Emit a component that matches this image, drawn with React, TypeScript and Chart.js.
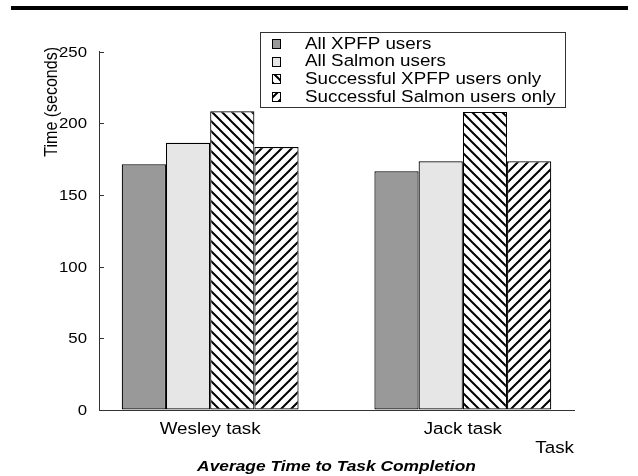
import React, { useEffect, useRef } from 'react';
import { Chart, registerables } from 'chart.js';

Chart.register(...registerables);

const categories = ['Wesley task', 'Jack task'];
const categoryPositions = [1, 2];
const seriesLabels = [
  'All XPFP users',
  'All Salmon users',
  'Successful XPFP users only',
  'Successful Salmon users only',
];
const allXpfp = [171.5, 166.5];
const allSalmon = [186.5, 173.5];
const successXpfp = [208.5, 208];
const successSalmon = [183.5, 173.5];
const yTicks = [0, 50, 100, 150, 200, 250];
const xAxisTitle = 'Task';
const yAxisTitle = 'Time (seconds)';
const chartTitle = 'Average Time to Task Completion';

const SX = 1.12;
const FONT = "'Liberation Sans', Arial, Helvetica, sans-serif";

function makeHatch(ctx: CanvasRenderingContext2D, forward: boolean): CanvasPattern {
  const s = 10;
  const c = document.createElement('canvas');
  c.width = s;
  c.height = s;
  const g = c.getContext('2d')!;
  g.fillStyle = '#ffffff';
  g.fillRect(0, 0, s, s);
  g.strokeStyle = '#000000';
  g.lineWidth = 2;
  g.beginPath();
  if (!forward) {
    for (const k of [-s, 0, s]) {
      g.moveTo(k - 1, -1);
      g.lineTo(k + s + 1, s + 1);
    }
  } else {
    for (const k of [0, s, 2 * s]) {
      g.moveTo(k + 1, -1);
      g.lineTo(k - s - 1, s + 1);
    }
  }
  g.stroke();
  return ctx.createPattern(c, 'repeat')!;
}

function drawText(
  ctx: CanvasRenderingContext2D,
  text: string,
  x: number,
  y: number,
  font: string,
  align: CanvasTextAlign,
) {
  ctx.save();
  ctx.font = font;
  ctx.fillStyle = '#000';
  ctx.textAlign = align;
  ctx.textBaseline = 'middle';
  ctx.translate(x, y);
  ctx.scale(SX, 1);
  ctx.fillText(text, 0, 0);
  ctx.restore();
}

const decorPlugin = {
  id: 'decor',
  afterDraw(chart: any) {
    const ctx: CanvasRenderingContext2D = chart.ctx;
    const area = chart.chartArea;
    const xs = chart.scales.x;
    const ys = chart.scales.y;

    // top rule
    ctx.save();
    ctx.fillStyle = '#000';
    ctx.fillRect(11, 6, 617, 4);
    ctx.restore();

    // y ticks (inward) and labels
    ctx.save();
    ctx.strokeStyle = '#333';
    ctx.lineWidth = 1;
    for (const t of ys.ticks) {
      const y = Math.round(ys.getPixelForValue(t.value)) + 0.5;
      ctx.beginPath();
      ctx.moveTo(area.left, y);
      ctx.lineTo(area.left + 5, y);
      ctx.stroke();
      drawText(ctx, String(t.value), area.left - 12, y, `15px ${FONT}`, 'right');
    }
    ctx.restore();

    // x tick labels
    for (const t of xs.ticks) {
      const x = xs.getPixelForValue(t.value);
      drawText(ctx, categories[categoryPositions.indexOf(t.value)], x, area.bottom + 19, `16.8px ${FONT}`, 'center');
    }

    // x axis title
    drawText(ctx, xAxisTitle, area.right, area.bottom + 38, `16.8px ${FONT}`, 'right');

    // chart title (bottom)
    drawText(ctx, chartTitle, (area.left + area.right) / 2, area.bottom + 57, `italic bold 15.5px ${FONT}`, 'center');

    // y axis title (rotated)
    ctx.save();
    ctx.font = `16px ${FONT}`;
    ctx.fillStyle = '#000';
    ctx.textAlign = 'right';
    ctx.textBaseline = 'middle';
    ctx.translate(52, 47);
    ctx.rotate(-Math.PI / 2);
    ctx.scale(1, SX);
    ctx.fillText(yAxisTitle, 0, 0);
    ctx.restore();

    // legend
    const bx = 260.5, by = 32.5, bw = 305, bh = 75;
    ctx.save();
    ctx.fillStyle = '#fff';
    ctx.fillRect(bx, by, bw, bh);
    ctx.strokeStyle = '#333';
    ctx.lineWidth = 1;
    ctx.strokeRect(bx, by, bw, bh);
    chart.data.datasets.forEach((ds: any, i: number) => {
      const cy = 44 + i * 17.7;
      ctx.fillStyle = ds.backgroundColor;
      ctx.fillRect(272, Math.round(cy - 5), 9, 10);
      ctx.strokeStyle = '#000';
      ctx.strokeRect(272.5, Math.round(cy - 5) + 0.5, 8, 9);
      drawText(ctx, ds.label, 305, cy, `16.8px ${FONT}`, 'left');
    });
    ctx.restore();
  },
};

export default function App() {
  const ref = useRef<HTMLCanvasElement>(null);
  useEffect(() => {
    const canvas = ref.current!;
    const ctx = canvas.getContext('2d')!;
    const fills: (string | CanvasPattern)[] = ['#999999', '#e6e6e6', makeHatch(ctx, false), makeHatch(ctx, true)];
    const seriesValues = [allXpfp, allSalmon, successXpfp, successSalmon];
    const chart = new Chart(canvas, {
      type: 'bar',
      data: {
        datasets: seriesLabels.map((label, i) => ({
          label,
          data: categoryPositions.map((x, j) => ({ x, y: seriesValues[i][j] })),
          backgroundColor: fills[i] as any,
          borderColor: '#000',
          borderWidth: 1.2,
          borderSkipped: false,
          categoryPercentage: 0.7,
          barPercentage: 1,
        })),
      },
      options: {
        responsive: false,
        animation: false,
        devicePixelRatio: 1,
        layout: { padding: { left: 0, top: 51.7, right: 64, bottom: 26 } },
        plugins: {
          legend: { display: false },
          tooltip: { enabled: false },
          title: { display: false },
        },
        scales: {
          x: {
            type: 'linear',
            min: 0.56,
            max: 2.44,
            offset: false,
            afterBuildTicks: (s: any) => {
              s.ticks = categoryPositions.map((v) => ({ value: v }));
            },
            afterFit: (s: any) => {
              s.height = 40;
            },
            ticks: { display: false },
            grid: { display: true, drawOnChartArea: false, drawTicks: false, offset: false },
            border: { display: true, color: '#333', width: 1 },
          },
          y: {
            min: 0,
            max: 250,
            afterBuildTicks: (s: any) => {
              s.ticks = yTicks.map((v) => ({ value: v }));
            },
            afterFit: (s: any) => {
              s.width = 99;
            },
            ticks: { display: false },
            grid: { display: true, drawOnChartArea: false, drawTicks: false },
            border: { display: true, color: '#333', width: 1 },
          },
        } as any,
      },
      plugins: [decorPlugin],
    });
    return () => chart.destroy();
  }, []);

  return (
    <div style={{ position: 'absolute', left: 0, top: 0, width: 638, height: 476, background: '#fff' }}>
      <canvas ref={ref} width={638} height={476} />
    </div>
  );
}
